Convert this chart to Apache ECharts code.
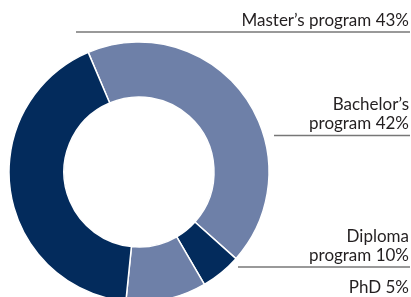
<!DOCTYPE html>
<html>
<head>
<meta charset="utf-8">
<script src="https://cdn.jsdelivr.net/npm/echarts@6/dist/echarts.min.js"></script>
<style>
  html, body { margin: 0; padding: 0; background: #fff; }
  #chart { width: 411px; height: 297px; }
</style>
</head>
<body>
<div id="chart"></div>
<script>
// data, clockwise from the top-left boundary
const programs = ['Master’s program', 'PhD', 'Diploma\nprogram', 'Bachelor’s\nprogram']
const shares = [43, 5, 10, 42]
const shades = ['#6e80a8', '#032b5c', '#6e80a8', '#032b5c']

// where each label sits (right aligned at the edge) and where its rule starts, same order as the data
const labelSpots = [
  { y: 30, lineY: 32, lineX: 76 },
  { y: 297, lineY: null, lineX: null },
  { y: 265, lineY: 267, lineX: 238 },
  { y: 133, lineY: 135.5, lineX: 274 }
]

const chart = echarts.init(document.getElementById('chart'))

chart.setOption({
  animation: false,
  series: [{
    type: 'pie',
    center: [139, 172],
    radius: [75, 130],
    startAngle: 113,
    clockwise: true,
    avoidLabelOverlap: false,
    itemStyle: {
      borderColor: '#fff',
      borderWidth: 1.5
    },
    label: {
      show: true,
      position: 'outside',
      formatter: '{b} {d}%',
      fontFamily: 'Lato',
      fontSize: 17,
      lineHeight: 19,
      color: '#231f20',
      align: 'right'
    },
    labelLine: {
      show: true,
      lineStyle: { color: '#777', width: 1.3 }
    },
    labelLayout: function (params) {
      const s = labelSpots[params.dataIndex]
      const out = { x: 409, y: s.y, align: 'right', verticalAlign: 'bottom' }
      if (s.lineY !== null) {
        out.labelLinePoints = [[s.lineX, s.lineY], [s.lineX + 10, s.lineY], [410, s.lineY]]
      }
      return out
    },
    data: programs.map((name, i) => ({
      name: name,
      value: shares[i],
      itemStyle: { color: shades[i] },
      labelLine: { show: labelSpots[i].lineY !== null }
    }))
  }]
})
</script>
</body>
</html>
